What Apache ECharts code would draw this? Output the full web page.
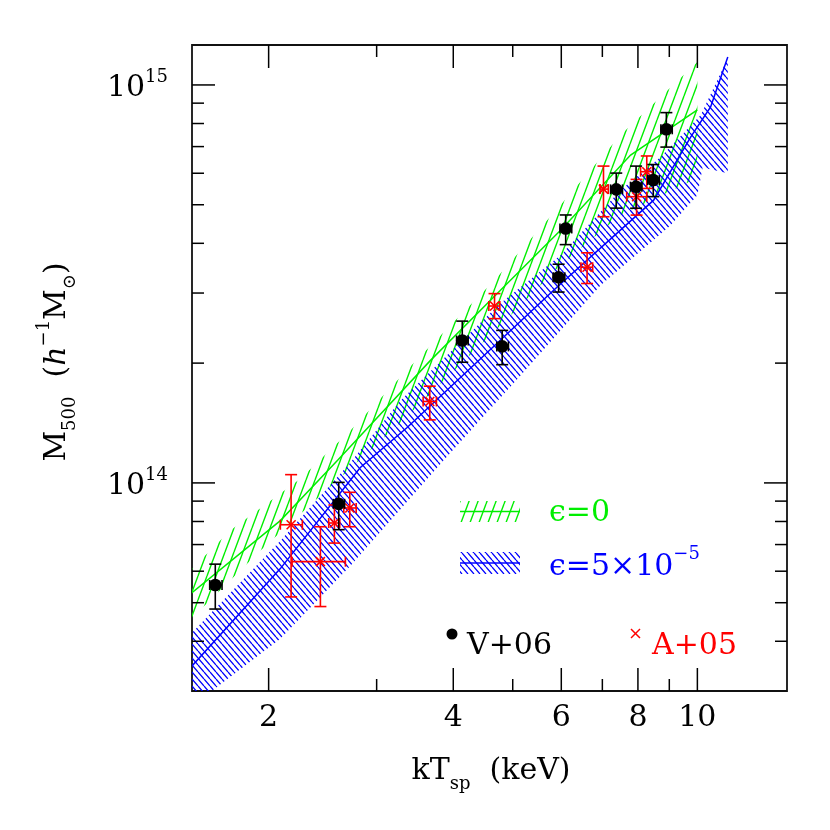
<!DOCTYPE html>
<html>
<head>
<meta charset="utf-8">
<script src="https://cdn.jsdelivr.net/npm/echarts@6.0.0/dist/echarts.min.js"></script>
<style>
  html, body { margin: 0; padding: 0; background: #fff; }
  #chart { width: 830px; height: 830px; }
</style>
</head>
<body>
<div id="chart"></div>
<script>
// V+06 clusters (black dots)
const tV06    = [1.637, 2.602, 4.137, 4.806, 5.94, 6.10, 7.375, 7.945, 8.475, 8.901];
const tV06Lo  = [1.603, 2.55, 4.05, 4.71, 5.82, 5.97, 7.22, 7.78, 8.30, 8.72];
const tV06Hi  = [1.679, 2.66, 4.23, 4.92, 6.08, 6.24, 7.55, 8.12, 8.67, 9.10];
const mV06    = [5.54e13, 8.86e13, 2.28e14, 2.203e14, 3.287e14, 4.359e14, 5.465e14, 5.551e14, 5.768e14, 7.736e14];
const mV06Lo  = [4.82e13, 7.63e13, 2.01e14, 1.982e14, 3.017e14, 3.97e14, 4.903e14, 4.90e14, 5.24e14, 6.98e14];
const mV06Hi  = [6.25e13, 1.003e14, 2.55e14, 2.417e14, 3.544e14, 4.713e14, 6.005e14, 6.253e14, 6.31e14, 8.52e14];

// A+05 clusters (red crosses)
const tA05    = [2.176, 2.429, 2.560, 2.712, 3.662, 4.67, 6.61, 7.03, 7.96, 8.27];
const tA05Lo  = [2.090, 2.184, 2.506, 2.652, 3.572, 4.571, 6.46, 6.94, 7.67, 8.08];
const tA05Hi  = [2.270, 2.668, 2.612, 2.778, 3.755, 4.764, 6.75, 7.157, 8.27, 8.45];
const mA05    = [7.85e13, 6.34e13, 7.93e13, 8.65e13, 1.602e14, 2.783e14, 3.483e14, 5.474e14, 5.238e14, 6.053e14];
const mA05Lo  = [5.17e13, 4.89e13, 7.06e13, 7.76e13, 1.440e14, 2.587e14, 3.17e14, 4.665e14, 4.709e14, 5.495e14];
const mA05Hi  = [1.049e14, 7.76e13, 8.80e13, 9.47e13, 1.750e14, 2.99e14, 3.787e14, 6.253e14, 5.79e14, 6.63e14];

// eps = 0 band (green)
const gUpT = [1.5, 1.732, 2.253, 2.719, 3.445, 4.670, 5.984, 7.498, 10];
const gUpM = [6.09e13, 7.59e13, 1.025e14, 1.354e14, 1.997e14, 3.230e14, 4.989e14, 7.483e14, 1.142e15];
const gLoT = [1.5, 1.940, 3.281, 4.775, 5.984, 7.498, 10];
const gLoM = [4.58e13, 6.76e13, 1.419e14, 2.488e14, 3.527e14, 4.709e14, 5.834e14];
const gMidT = [1.5, 2.090, 2.589, 3.672, 4.775, 5.984, 7.783, 10];
const gMidM = [5.30e13, 8.04e13, 1.138e14, 2.032e14, 3.048e14, 4.315e14, 6.664e14, 8.652e14];

// eps = 5e-5 band (blue)
const bUpT = [1.5, 2.090, 2.719, 3.281, 4.775, 5.984, 7.498, 8.713, 10.13, 11.21];
const bUpM = [4.20e13, 7.16e13, 1.125e14, 1.610e14, 2.826e14, 3.732e14, 5.442e14, 6.589e14, 8.405e14, 1.169e15];
const bLoT = [1.5, 2.090, 2.719, 3.855, 5.149, 6.956, 9.046, 10, 10.2, 11.21];
const bLoM = [2.751e13, 4.057e13, 6.19e13, 1.138e14, 1.863e14, 3.139e14, 4.442e14, 5.285e14, 6.2e14, 6.003e14];
const bMidT = [1.5, 2.090, 2.822, 3.364, 5.83, 8.487, 9.75, 10.51, 11.21];
const bMidM = [3.468e13, 6.09e13, 1.093e14, 1.378e14, 3.048e14, 5.134e14, 7.397e14, 8.803e14, 1.176e15];

// axes
const xMin = 1.5, xMax = 14;
const yMin = 3e13, yMax = 1.26e15;
const xMajor = [2, 4, 6, 8, 10];
const xMajorLabels = ['2', '4', '6', '8', '10'];
const xMinor = [3, 5, 7, 9];
const yMajor = [1e14, 1e15];
const yMajorExp = ['14', '15'];
const yMinor = [4e13, 5e13, 6e13, 7e13, 8e13, 9e13, 2e14, 3e14, 4e14, 5e14, 6e14, 7e14, 8e14, 9e14];

const FONT = "'DejaVu Serif','Liberation Serif',serif";
const FS = 30, FS_SMALL = 18;
const GREEN = '#00ee00', BLUE = '#0000ff', RED = '#ff0000';

// hatch tiles
function hatch(w, h, color, lw, slash) {
    const c = document.createElement('canvas');
    c.width = w; c.height = h;
    const ctx = c.getContext('2d');
    ctx.strokeStyle = color;
    ctx.lineWidth = lw;
    ctx.beginPath();
    for (let k = -1; k <= 1; k++) {
        if (slash) { ctx.moveTo(k * w, h); ctx.lineTo(k * w + w, 0); }
        else { ctx.moveTo(k * w, 0); ctx.lineTo(k * w + w, h); }
    }
    ctx.stroke();
    return c;
}
const greenTile = hatch(9, 24, GREEN, 1.4, true);
const blueTile = hatch(6, 7, BLUE, 1.3, false);

function band(upT, upM, loT, loM, tile, z) {
    return {
        type: 'custom', clip: true, silent: true, z: z,
        data: [[upT[0], upM[0]]],
        renderItem(params, api) {
            const pts = [];
            upT.forEach((t, i) => pts.push(api.coord([t, upM[i]])));
            for (let i = loT.length - 1; i >= 0; i--) pts.push(api.coord([loT[i], loM[i]]));
            return { type: 'polygon', shape: { points: pts }, style: { fill: { image: tile, repeat: 'repeat' } } };
        }
    };
}

function midLine(t, m, color, z) {
    return {
        type: 'custom', clip: true, silent: true, z: z,
        data: [[t[0], m[0]]],
        renderItem(params, api) {
            const pts = t.map((v, i) => api.coord([v, m[i]]));
            return { type: 'polyline', shape: { points: pts }, style: { stroke: color, lineWidth: 1.5, fill: null } };
        }
    };
}

function errSeries(t, tLo, tHi, m, mLo, mHi, color, dot, z) {
    return {
        type: 'custom', clip: false, silent: true, z: z,
        data: t.map((v, i) => [v, m[i], mLo[i], mHi[i], tLo[i], tHi[i]]),
        renderItem(params, api) {
            const tt = api.value(0), mm = api.value(1);
            const c = api.coord([tt, mm]);
            const lo = api.coord([tt, api.value(2)]), hi = api.coord([tt, api.value(3)]);
            const l = api.coord([api.value(4), mm]), r = api.coord([api.value(5), mm]);
            const cap = 6;
            const st = { stroke: color, lineWidth: 1.6 };
            const seg = (x1, y1, x2, y2) => ({ type: 'line', shape: { x1, y1, x2, y2 }, style: st });
            const ch = [
                seg(lo[0], lo[1], hi[0], hi[1]),
                seg(lo[0] - cap, lo[1], lo[0] + cap, lo[1]),
                seg(hi[0] - cap, hi[1], hi[0] + cap, hi[1]),
                seg(l[0], l[1], r[0], r[1]),
                seg(l[0], l[1] - 5, l[0], l[1] + 5),
                seg(r[0], r[1] - 5, r[0], r[1] + 5)
            ];
            if (dot) {
                ch.push({ type: 'circle', shape: { cx: c[0], cy: c[1], r: 6.3 }, style: { fill: '#000' } });
            } else {
                ch.push(seg(c[0] - 4.5, c[1] - 4.5, c[0] + 4.5, c[1] + 4.5));
                ch.push(seg(c[0] - 4.5, c[1] + 4.5, c[0] + 4.5, c[1] - 4.5));
            }
            return { type: 'group', children: ch };
        }
    };
}

const tickStyle = { stroke: '#000', lineWidth: 1.5 };

function xTicks(vals, len, labels) {
    return {
        type: 'custom', clip: false, silent: true, z: 6,
        data: vals.map((v, i) => [v, yMin, i]),
        renderItem(params, api) {
            const cs = params.coordSys;
            const px = api.coord([api.value(0), yMin])[0];
            const b = cs.y + cs.height, t = cs.y;
            const ch = [
                { type: 'line', shape: { x1: px, y1: b, x2: px, y2: b - len }, style: tickStyle },
                { type: 'line', shape: { x1: px, y1: t, x2: px, y2: t + len }, style: tickStyle }
            ];
            if (labels) {
                ch.push({ type: 'text', style: {
                    text: labels[api.value(2)], x: px, y: b + 27, align: 'center', verticalAlign: 'middle',
                    fontSize: FS, fontFamily: FONT, fill: '#000'
                } });
            }
            return { type: 'group', children: ch };
        }
    };
}

function yTicks(vals, len, exps) {
    return {
        type: 'custom', clip: false, silent: true, z: 6,
        data: vals.map((v, i) => [xMin, v, i]),
        renderItem(params, api) {
            const cs = params.coordSys;
            const py = api.coord([xMin, api.value(1)])[1];
            const l = cs.x, r = cs.x + cs.width;
            const ch = [
                { type: 'line', shape: { x1: l, y1: py, x2: l + len, y2: py }, style: tickStyle },
                { type: 'line', shape: { x1: r, y1: py, x2: r - len, y2: py }, style: tickStyle }
            ];
            if (exps) {
                ch.push({ type: 'text', style: {
                    text: '{b|10}{s|' + exps[api.value(2)] + '}', x: l - 24, y: py + 3,
                    align: 'right', verticalAlign: 'middle',
                    rich: {
                        b: { fontSize: FS, fontFamily: FONT, lineHeight: 40, fill: '#000' },
                        s: { fontSize: FS_SMALL, fontFamily: FONT, lineHeight: 22, verticalAlign: 'top', fill: '#000' }
                    }
                } });
            }
            return { type: 'group', children: ch };
        }
    };
}

const chart = echarts.init(document.getElementById('chart'));

const rich = {
    b: { fontSize: FS, fontFamily: FONT, lineHeight: 44 },
    sub: { fontSize: FS_SMALL, fontFamily: FONT, lineHeight: 20, verticalAlign: 'bottom' },
    sup: { fontSize: FS_SMALL, fontFamily: FONT, lineHeight: 20, verticalAlign: 'top' },
    i: { fontSize: FS, fontFamily: FONT, fontStyle: 'italic', lineHeight: 44 }
};
function richColored(color) {
    const o = {};
    Object.keys(rich).forEach(k => { o[k] = Object.assign({}, rich[k], { fill: color }); });
    return o;
}

const option = {
    animation: false,
    backgroundColor: '#fff',
    grid: { left: 192, right: 43, top: 45, bottom: 139, show: true, borderColor: '#111', borderWidth: 1.8, backgroundColor: 'transparent' },
    xAxis: {
        type: 'log', logBase: 10, min: xMin, max: xMax,
        axisLine: { show: false }, axisTick: { show: false }, axisLabel: { show: false }, splitLine: { show: false }
    },
    yAxis: {
        type: 'log', logBase: 10, min: yMin, max: yMax,
        axisLine: { show: false }, axisTick: { show: false }, axisLabel: { show: false }, splitLine: { show: false }
    },
    graphic: [
        // axis titles
        { type: 'text', x: 491, y: 771, style: {
            text: '{b|kT}{sub|sp}{b|  (keV)}', align: 'center', verticalAlign: 'middle', rich: richColored('#000') } },
        { type: 'text', x: 57, y: 362, rotation: Math.PI / 2, style: {
            text: '{b|M}{sub|500}{b|  (}{i|h}{sup|−1}{b|M}{sub|⊙}{b|)}', align: 'center', verticalAlign: 'middle', rich: richColored('#000') } },
        // legend: eps = 0
        { type: 'rect', shape: { x: 460, y: 501, width: 60, height: 21 }, style: { fill: { image: greenTile, repeat: 'repeat' } } },
        { type: 'line', shape: { x1: 460, y1: 511.5, x2: 520, y2: 511.5 }, style: { stroke: GREEN, lineWidth: 1.5 } },
        { type: 'text', x: 549, y: 513, style: { text: '{b|ϵ=0}', align: 'left', verticalAlign: 'middle', rich: richColored(GREEN) } },
        // legend: eps = 5e-5
        { type: 'rect', shape: { x: 460, y: 552, width: 60, height: 22 }, style: { fill: { image: blueTile, repeat: 'repeat' } } },
        { type: 'line', shape: { x1: 460, y1: 563, x2: 520, y2: 563 }, style: { stroke: BLUE, lineWidth: 1.5 } },
        { type: 'text', x: 549, y: 567, style: { text: '{b|ϵ=5×10}{sup|−5}', align: 'left', verticalAlign: 'middle', rich: richColored(BLUE) } },
        // legend: data sets
        { type: 'circle', shape: { cx: 452, cy: 634, r: 5.5 }, style: { fill: '#000' } },
        { type: 'text', x: 467, y: 646, style: { text: 'V+06', align: 'left', verticalAlign: 'middle', fontSize: FS, fontFamily: FONT, fill: '#000' } },
        { type: 'line', shape: { x1: 631, y1: 629, x2: 640, y2: 638 }, style: { stroke: RED, lineWidth: 1.5 } },
        { type: 'line', shape: { x1: 631, y1: 638, x2: 640, y2: 629 }, style: { stroke: RED, lineWidth: 1.5 } },
        { type: 'text', x: 652, y: 646, style: { text: 'A+05', align: 'left', verticalAlign: 'middle', fontSize: FS, fontFamily: FONT, fill: RED } }
    ],
    series: [
        band(gUpT, gUpM, gLoT, gLoM, greenTile, 1),
        band(bUpT, bUpM, bLoT, bLoM, blueTile, 2),
        midLine(gMidT, gMidM, GREEN, 3),
        midLine(bMidT, bMidM, BLUE, 3),
        errSeries(tA05, tA05Lo, tA05Hi, mA05, mA05Lo, mA05Hi, RED, false, 4),
        errSeries(tV06, tV06Lo, tV06Hi, mV06, mV06Lo, mV06Hi, '#000', true, 5),
        xTicks(xMajor, 23, xMajorLabels),
        xTicks(xMinor, 12, null),
        yTicks(yMajor, 23, yMajorExp),
        yTicks(yMinor, 12, null)
    ]
};
chart.setOption(option);
window.addEventListener('resize', () => chart.resize());
</script>
</body>
</html>
